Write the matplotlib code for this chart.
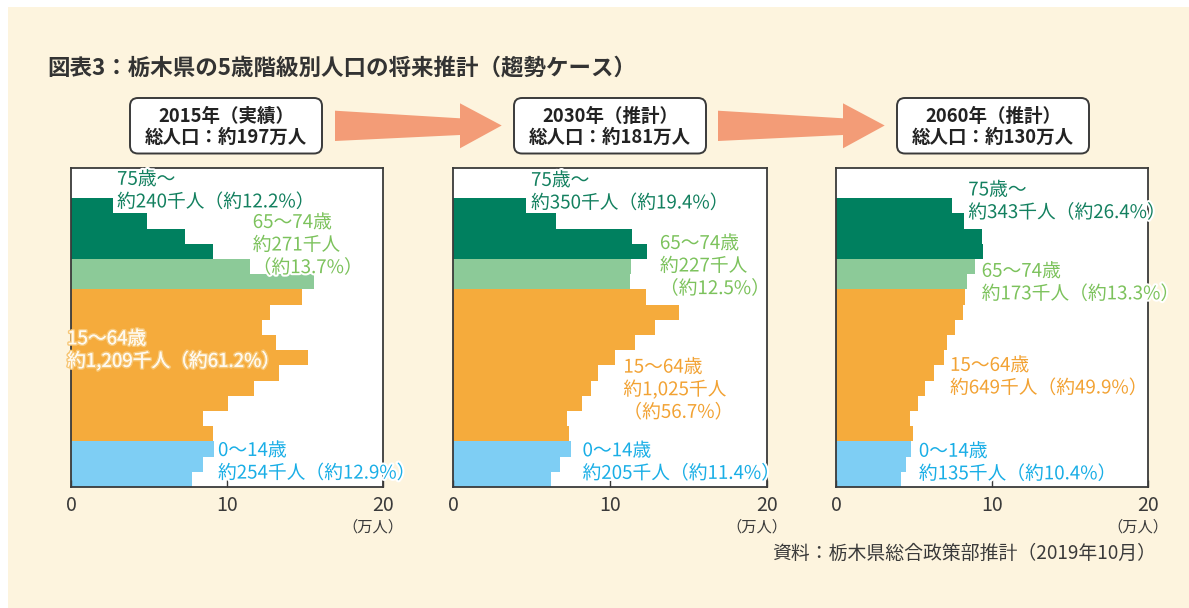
import matplotlib
matplotlib.use("Agg")
import matplotlib.pyplot as plt
from matplotlib.patches import Rectangle, FancyBboxPatch, Polygon
import matplotlib.patheffects as pe

plt.rcParams['font.family'] = ['Noto Sans CJK JP', 'DejaVu Sans']

# ---------------- data ----------------
age_groups = ['0-4', '5-9', '10-14', '15-19', '20-24', '25-29', '30-34', '35-39',
              '40-44', '45-49', '50-54', '55-59', '60-64', '65-69', '70-74',
              '75-79', '80-84', '85-89', '90+']
group_of_age = ['y', 'y', 'y', 'w', 'w', 'w', 'w', 'w', 'w', 'w', 'w', 'w', 'w',
                'e', 'e', 'o', 'o', 'o', 'o']

pop_2015 = [7.76, 8.44, 9.17, 9.08, 8.48, 10.04, 11.73, 13.31, 15.19, 13.14,
            12.24, 12.76, 14.79, 15.58, 11.47, 9.08, 7.31, 4.87, 2.67]
pop_2030 = [6.23, 6.81, 7.51, 7.38, 7.28, 8.23, 8.77, 9.21, 10.32, 11.57,
            12.85, 14.40, 12.28, 11.26, 11.32, 12.34, 11.38, 6.53, 4.68]
pop_2060 = [4.16, 4.48, 4.80, 4.91, 4.76, 5.23, 5.68, 6.28, 6.94, 7.11,
            7.60, 8.11, 8.24, 8.39, 8.90, 9.41, 9.33, 8.18, 7.43]

panel_headers = ['2015年（実績）\n総人口：約197万人',
                 '2030年（推計）\n総人口：約181万人',
                 '2060年（推計）\n総人口：約130万人']

labels_2015 = {'o': '75歳〜\n約240千人（約12.2%）',
               'e': '65〜74歳\n約271千人\n（約13.7%）',
               'w': '15〜64歳\n約1,209千人（約61.2%）',
               'y': '0〜14歳\n約254千人（約12.9%）'}
labels_2030 = {'o': '75歳〜\n約350千人（約19.4%）',
               'e': '65〜74歳\n約227千人\n（約12.5%）',
               'w': '15〜64歳\n約1,025千人\n（約56.7%）',
               'y': '0〜14歳\n約205千人（約11.4%）'}
labels_2060 = {'o': '75歳〜\n約343千人（約26.4%）',
               'e': '65〜74歳\n約173千人（約13.3%）',
               'w': '15〜64歳\n約649千人（約49.9%）',
               'y': '0〜14歳\n約135千人（約10.4%）'}

# label anchor positions (x in 万人, y in bar index units)
label_pos = [
    {'o': (2.95, 19.0), 'e': (11.65, 15.42), 'w': (-0.25, 8.51), 'y': (9.42, 1.16)},
    {'o': (4.97, 18.93), 'e': (13.18, 14.04), 'w': (10.85, 5.9), 'y': (8.25, 1.14)},
    {'o': (8.48, 18.3), 'e': (9.34, 12.95), 'w': (7.31, 6.76), 'y': (5.31, 1.11)},
]

x_ticks = [0, 10, 20]
title = '図表3：栃木県の5歳階級別人口の将来推計（趨勢ケース）'
source = '資料：栃木県総合政策部推計（2019年10月）'
unit = '（万人）'

# ---------------- styles ----------------
W, H = 1189, 608
bar_colors = {'o': '#00805f', 'e': '#8cca98', 'w': '#f5ab3c', 'y': '#7ecef4'}
text_colors = {'o': '#13805f', 'e': '#7cc25c', 'w': '#f2a233', 'y': '#19aee6'}
cream = '#fdf4de'
dark = '#3a3a3a'
arrow_color = '#f39c77'

fig = plt.figure(figsize=(W / 100, H / 100), dpi=100, facecolor='white')

# overlay axes in pixel coordinates
ov = fig.add_axes([0, 0, 1, 1], zorder=-1)
ov.set_xlim(0, W)
ov.set_ylim(H, 0)
ov.axis('off')
ov.patch.set_alpha(0)
ov.add_patch(Rectangle((8, 7), W - 8, H - 7, facecolor=cream, edgecolor='none'))

ov.text(47, 68, title, fontsize=16.2, fontweight='bold', color='#333333',
        ha='left', va='center')

box_lefts = [130, 514, 897]
box_w, box_top, box_h = 192, 98, 55.5
for bl, hdr in zip(box_lefts, panel_headers):
    ov.add_patch(FancyBboxPatch((bl, box_top), box_w, box_h,
                                boxstyle='round,pad=0,rounding_size=8',
                                facecolor='white', edgecolor=dark, linewidth=1.4))
    ov.text(bl + box_w / 2, box_top + box_h / 2 + 1, hdr, fontsize=13.3,
            fontweight='bold', color='#222222', ha='center', va='center',
            linespacing=1.15)

for shift in [0, 383]:
    pts = [(335, 110.7), (460, 118.3), (460, 103.3), (501.7, 125.5),
           (460, 148.3), (460, 135), (335, 141)]
    ov.add_patch(Polygon([(x + shift, y) for x, y in pts], closed=True,
                         facecolor=arrow_color, edgecolor='none'))

ov.text(1156, 553, source, fontsize=13.6, color=dark, ha='right', va='center')

# panels
ax_left_px = [71, 453, 836]
ax_w_px = [312, 314, 312]
ax_top_px, ax_bot_px = 167.5, 487
datasets = [pop_2015, pop_2030, pop_2060]
labelsets = [labels_2015, labels_2030, labels_2060]

ypos = list(range(len(age_groups)))
for i in range(3):
    ax = fig.add_axes([ax_left_px[i] / W, 1 - ax_bot_px / H,
                       ax_w_px[i] / W, (ax_bot_px - ax_top_px) / H])
    cols = [bar_colors[g] for g in group_of_age]
    ax.barh(ypos, datasets[i], height=1.0, color=cols, edgecolor='none')
    ax.set_xlim(0, 20)
    ax.set_ylim(-0.5, 20.52)
    ax.set_yticks([])
    ax.set_xticks(x_ticks)
    ax.set_xticklabels([str(t) for t in x_ticks])
    ax.tick_params(axis='x', direction='in', length=5, width=1, color=dark,
                   labelcolor=dark, labelsize=14, pad=6)
    for s in ax.spines.values():
        s.set_color(dark)
        s.set_linewidth(1.3)
    for g, txt in labelsets[i].items():
        x, y = label_pos[i][g]
        if i == 0 and g == 'w':
            t = ax.text(x, y, txt, fontsize=13.5, color='#fffaf0', ha='left',
                        va='center', linespacing=1.1, clip_on=False, zorder=5)
            t.set_path_effects([pe.withStroke(linewidth=2.2, foreground='#f7c777'),
                                pe.Normal()])
        else:
            t = ax.text(x, y, txt, fontsize=13.5, color=text_colors[g], ha='left',
                        va='center', linespacing=1.1, clip_on=False, zorder=5)
            t.set_path_effects([pe.withStroke(linewidth=3, foreground='white')])
    ov.text(ax_left_px[i] + ax_w_px[i] + 20, 527, unit, fontsize=11,
            color=dark, ha='right', va='center')

fig.savefig('out.png', dpi=100, facecolor=fig.get_facecolor())
